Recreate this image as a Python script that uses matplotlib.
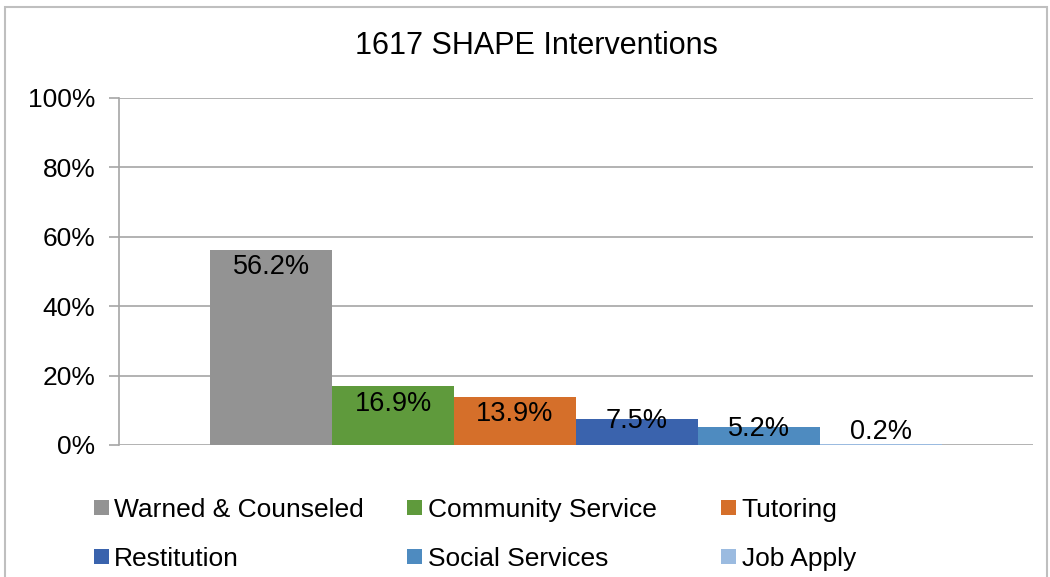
import matplotlib.pyplot as plt
from matplotlib.patches import Rectangle

plt.rcParams['font.family'] = ['Liberation Sans', 'DejaVu Sans']

# data
categories = ['Warned & Counseled', 'Community Service', 'Tutoring',
              'Restitution', 'Social Services', 'Job Apply']
shares = [0.562, 0.169, 0.139, 0.075, 0.052, 0.002]
labels = ['56.2%', '16.9%', '13.9%', '7.5%', '5.2%', '0.2%']
colors = ['#939393', '#5f9a3c', '#d56f2a', '#3a63ad', '#4e8bc0', '#9bbbe0']
yticks = [0, 0.2, 0.4, 0.6, 0.8, 1.0]
ytick_labels = ['0%', '20%', '40%', '60%', '80%', '100%']

fig = plt.figure(figsize=(10.5, 5.77), dpi=100)
ax = fig.add_axes([0.1133, 0.2288, 0.8705, 0.6014])

n = len(shares)
w = 0.8 / n
handles = []
for i, (v, c, lab) in enumerate(zip(shares, colors, labels)):
    x = -0.4 + w * (i + 0.5)
    b = ax.bar(x, v, width=w, color=c, label=categories[i], zorder=3)
    handles.append(b)
    ly = v - 0.05 if v > 0.1 else max(v - 0.005, 0.037)
    ax.text(x, ly, lab, ha='center', va='center', fontsize=19.5, zorder=4)

ax.set_xlim(-0.5, 0.5)
ax.set_ylim(0, 1.0)
ax.set_yticks(yticks)
ax.set_yticklabels(ytick_labels, fontsize=19)
ax.set_xticks([])
ax.grid(axis='y', color='#a6a6a6', linewidth=1.2, zorder=0)
ax.tick_params(axis='y', length=7, color='#a6a6a6', width=1.2, pad=10)
for s in ['top', 'right', 'bottom']:
    ax.spines[s].set_visible(False)
ax.spines['left'].set_color('#a6a6a6')
ax.spines['left'].set_linewidth(1.2)

fig.text(0.5105, 0.921, '1617 SHAPE Interventions', ha='center', va='center', fontsize=22)

# legend, one per column so the columns line up like the original
col_x = [0.0794, 0.378, 0.677]
for c in range(3):
    fig.legend([handles[c], handles[c + 3]], [categories[c], categories[c + 3]],
               loc='upper left', bbox_to_anchor=(col_x[c], 0.156),
               frameon=False, fontsize=19, handlelength=0.57, handleheight=0.5,
               handletextpad=0.2, labelspacing=0.97, borderaxespad=0)

# outer chart border
fig.patches.append(Rectangle((5 / 1050, -0.02), 1042 / 1050, 1 - 7 / 577 + 0.02,
                             transform=fig.transFigure, fill=False,
                             edgecolor='#bfbfbf', linewidth=1.5))

fig.savefig('out.png', dpi=100)
